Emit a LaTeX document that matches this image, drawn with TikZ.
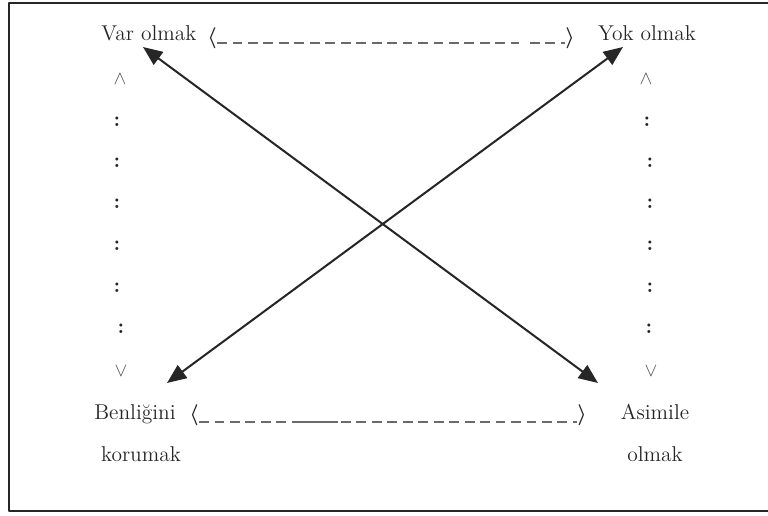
\documentclass[tikz,border=0pt]{standalone}
\usepackage{amsmath}
\usetikzlibrary{arrows.meta}
\definecolor{inkgray}{HTML}{262626}
\definecolor{dashgray}{HTML}{6A6A6A}
\definecolor{markgray}{HTML}{505050}
\tikzset{
  word/.style={inner sep=0pt, anchor=base, text=inkgray},
  brak/.style={inner sep=0pt, text=inkgray},
  dashline/.style={dashgray, line width=1.05pt, dash pattern=on 5.6pt off 3.2pt},
  tickmark/.style={inner sep=0pt, text=markgray, font=\fontsize{11}{13}\selectfont},
  dotpair/.style={inner sep=0pt, text=inkgray},
  crossarrow/.style={inkgray, line width=1.15pt, {Triangle[length=11pt,width=9pt]}-{Triangle[length=11pt,width=9pt]}}
}
\begin{document}
\begin{tikzpicture}[x=0.02cm, y=-0.02cm, font=\fontsize{12.2}{14}\selectfont, line join=round, line cap=butt]
\useasboundingbox (0,0) rectangle (768,516);
\draw[line width=1.2pt, inkgray] (768,3) -- (9,3) -- (9,511) -- (768,511);
% corner words
\node[word] (var) at (149,41) {Var olmak};
\node[word] (yok) at (647,41) {Yok olmak};
\node[word] (benlik) at (135,420) {Benli\u{g}ini};
\node[word] (koru) at (141,462) {korumak};
\node[word] (asim) at (655,420) {Asimile};
\node[word] (olmak) at (655,462) {olmak};
% brackets and dashes
\node[brak] (tl) at (212,38) {$\boldsymbol{\langle}$};
\node[brak] (tr) at (570,38) {$\boldsymbol{\rangle}$};
\node[brak] (bl) at (194,415) {$\boldsymbol{\langle}$};
\node[brak] (br) at (582,415) {$\boldsymbol{\rangle}$};
\draw[dashline] (tl.south east |- 0,43) -- (519,43);
\draw[dashline] (530,43) -- (tr.south west |- 0,43);
\draw[dashline] (bl.south east |- 0,422) -- (297,422);
\draw[dashgray, line width=1.05pt] (297,422) -- (338,422);
\draw[dashline] (341,422) -- (br.south west |- 0,422);
% vertical marks
\node[tickmark] (lup) at (120,79) {$\wedge$};
\node[tickmark] (ldown) at (121,371) {$\vee$};
\node[tickmark] (rup) at (646,79) {$\wedge$};
\node[tickmark] (rdown) at (651,371) {$\vee$};
\foreach \x/\y [count=\i] in {117/122,117/163,117/204,117/246,117/288,121/329}
  \node[dotpair] (lcol\i) at (\x,\y) {\textbf{:}};
\foreach \x/\y [count=\i] in {647/122,650/163,650/204,650/246,650/288,649/329}
  \node[dotpair] (rcol\i) at (\x,\y) {\textbf{:}};
% crossing arrows
\coordinate (vartip) at (143,47);
\coordinate (asimtip) at (598,383);
\coordinate (yoktip) at (623,47);
\coordinate (benliktip) at (167,383);
\draw[crossarrow] (vartip) -- (asimtip);
\draw[crossarrow] (benliktip) -- (yoktip);
\end{tikzpicture}
\end{document}
